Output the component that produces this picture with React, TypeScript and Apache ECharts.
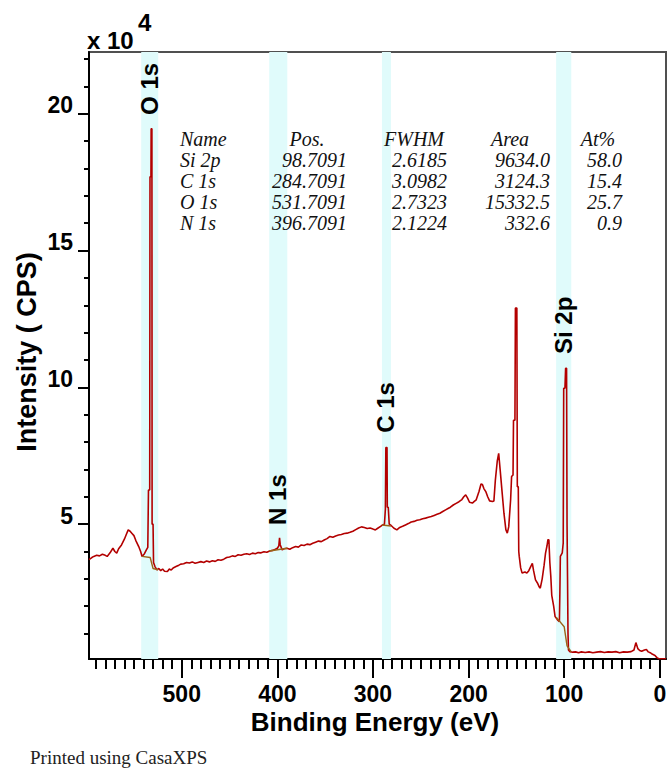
import React, { useEffect, useRef } from "react";
import * as echarts from "echarts";

// ---- spectrum (binding energy in eV, intensity in units of 10^4 CPS)
const spectrumEnergy = [
  597, 594, 592, 589, 586, 583, 580, 578, 575, 572, 570, 568, 566, 563, 560, 558, 556, 554, 552, 550,
  548, 545, 543, 541.5, 539, 537, 535.5, 534.8, 533.5, 533.2, 532.2, 532, 531.2, 531, 530, 529.5,
  528, 526, 524, 522, 520, 518, 515, 513, 511, 509, 506, 503, 501, 498, 495, 492, 489, 486, 483,
  480, 477, 474, 471, 468, 465, 462, 459, 456, 453, 450, 447, 444, 441, 438, 435, 432, 429, 426,
  423, 420, 417, 414, 411, 408, 405, 402, 400, 398.5, 397.7, 397, 395, 393, 390, 387, 384, 381,
  378, 375, 372, 369, 366, 363, 360, 357, 354, 351, 348, 345, 342, 339, 336, 333, 330, 327, 324,
  321, 318, 315, 312, 309, 306, 303, 300, 297.5, 295, 292, 290, 288, 287, 286.5, 285.3, 285, 284,
  283, 281, 278, 275, 272, 269, 266, 263, 260, 257, 254, 251, 248, 245, 242, 239, 236, 233, 230,
  227, 224, 221, 219, 216, 213, 210, 207, 205, 203, 201, 199, 196, 194, 192, 189, 187, 185.5, 184,
  182, 180, 178, 175, 173.5, 172, 170, 168.5, 167, 165, 163, 161, 159.5, 158, 156, 155, 153.5, 153,
  151.5, 151, 149.5, 149, 148, 147.5, 147, 145.5, 144, 141, 139, 137, 135, 133.3, 132, 130, 128,
  126, 125, 123, 121, 119.5, 118, 117, 116, 115, 114, 113, 111, 109.5, 107, 105, 104.5, 104, 102,
  101, 100.5, 99.2, 98.5, 97.5, 97, 96.5, 96, 95.5, 94, 91, 88, 85, 82, 78, 74, 70, 66, 62, 58, 54,
  50, 46, 42, 38, 34, 30, 27, 25, 23, 21, 19, 16, 14, 12, 10, 8, 5, 3, 1, -6.5,
];
const spectrumCounts = [
  3.7, 3.78, 3.82, 3.86, 3.84, 3.9, 3.86, 3.82, 3.95, 4.12, 4.0, 3.94, 4.1, 4.24, 4.45, 4.62, 4.79, 4.74, 4.66, 4.58,
  4.4, 4.18, 4.0, 3.82, 3.92, 4.06, 4.15, 6.25, 6.25, 17.7, 17.7, 19.45, 19.45, 5.0, 5.0, 3.6,
  3.45, 3.33, 3.38, 3.3, 3.36, 3.28, 3.27, 3.36, 3.32, 3.4, 3.45, 3.5, 3.54, 3.55, 3.6, 3.58, 3.62, 3.57, 3.6,
  3.63, 3.6, 3.65, 3.62, 3.66, 3.64, 3.7, 3.68, 3.72, 3.78, 3.8, 3.84, 3.82, 3.88, 3.86, 3.9, 3.92, 3.89, 3.94,
  3.92, 3.96, 3.95, 3.99, 3.97, 4.02, 4.04, 4.08, 4.12, 4.2, 4.5, 4.25, 4.06, 4.1, 4.12, 4.08, 4.14, 4.18,
  4.16, 4.24, 4.22, 4.27, 4.25, 4.3, 4.34, 4.38, 4.36, 4.42, 4.47, 4.55, 4.52, 4.57, 4.6, 4.62, 4.66, 4.67, 4.7,
  4.74, 4.8, 4.86, 4.9, 4.88, 4.84, 4.86, 4.82, 4.79, 4.85, 4.92, 4.97, 5.0, 5.55, 7.8, 7.8, 5.62, 5.62,
  5.0, 4.95, 4.85, 4.79, 4.88, 4.92, 4.97, 5.02, 5.08, 5.1, 5.14, 5.16, 5.2, 5.22, 5.25, 5.28, 5.32, 5.36, 5.4,
  5.46, 5.52, 5.58, 5.62, 5.7, 5.76, 5.82, 5.9, 6.0, 6.07, 5.95, 5.8, 5.77, 5.83, 5.89, 6.2, 6.47, 6.45, 6.3,
  6.19, 6.0, 5.85, 5.83, 5.85, 6.6, 7.3, 7.59, 7.0, 6.2, 5.4, 4.8, 4.67, 4.9, 5.9, 6.74, 6.8, 8.8,
  8.8, 12.9, 12.9, 6.37, 6.37, 4.0, 3.82, 3.4, 3.21, 3.25, 3.21, 3.3, 3.45, 3.57, 3.3, 2.96, 2.85,
  2.7, 2.66, 3.0, 3.5, 3.94, 4.2, 4.43, 4.43, 3.6, 3.1, 2.4, 2.0, 1.62, 1.5, 1.44, 2.5, 3.82, 3.95,
  4.31, 9.97, 9.97, 10.7, 10.7, 5.0, 3.08, 1.0, 0.4, 0.34, 0.32, 0.33, 0.3, 0.33, 0.31, 0.33, 0.3, 0.32, 0.34, 0.31, 0.33,
  0.32, 0.34, 0.3, 0.33, 0.32, 0.34, 0.4, 0.67, 0.45, 0.38, 0.35, 0.4, 0.42, 0.33, 0.3, 0.25, 0.2, 0.12, 0.08, 0.08,
];

// ---- component regions (shaded bands) and their backgrounds
const regionNames = ["O 1s", "N 1s", "C 1s", "Si 2p"];
const regionStart = [542.4, 408.5, 290.6, 108.4];
const regionEnd = [524.6, 389.6, 281.2, 92.6];
const bgEnergy = [
  [541.5, 533, 530, 524.6],
  [408.5, 389.6],
  [290.6, 281.2],
  [108.4, 100, 97, 92.6],
];
const bgCounts = [
  [3.82, 3.78, 3.38, 3.33],
  [4.02, 4.12],
  [4.97, 4.93],
  [1.6, 1.25, 0.55, 0.33],
];

// ---- peak annotation labels (x position in eV, label base height in 10^4 CPS)
const peakLabelNames = ["O 1s", "N 1s", "C 1s", "Si 2p"];
const peakLabelEnergy = [533.5, 399.6, 287.0, 100.4];
const peakLabelBase = [19.96, 4.97, 8.34, 11.22];

// ---- axes
const xMin = -6.5;
const xMax = 597;
const yMin = 0.07;
const yMax = 22.26;
const xMajorTicks = [0, 100, 200, 300, 400, 500];
const xMinorTicks = [
  10, 20, 30, 40, 50, 60, 70, 80, 90, 110, 120, 130, 140, 150, 160, 170, 180, 190,
  210, 220, 230, 240, 250, 260, 270, 280, 290, 310, 320, 330, 340, 350, 360, 370, 380, 390,
  410, 420, 430, 440, 450, 460, 470, 480, 490, 510, 520, 530, 540, 550, 560, 570, 580, 590,
];
const yMajorTicks = [5, 10, 15, 20];
const yMinorTicks = [1, 2, 3, 4, 6, 7, 8, 9, 11, 12, 13, 14, 16, 17, 18, 19, 21, 22];

// ---- quantification table
const tableHeaders = ["Name", "Pos.", "FWHM", "Area", "At%"];
const tableNames = ["Si 2p", "C 1s", "O 1s", "N 1s"];
const tablePos = ["98.7091", "284.7091", "531.7091", "396.7091"];
const tableFWHM = ["2.6185", "3.0982", "2.7323", "2.1224"];
const tableArea = ["9634.0", "3124.3", "15332.5", "332.6"];
const tableAt = ["58.0", "15.4", "25.7", "0.9"];

const SANS = "'Liberation Sans', Arial, Helvetica, sans-serif";
const SERIF = "'Liberation Serif', 'Times New Roman', serif";

function buildOption() {
  const spectrum = spectrumEnergy.map((e, i) => [e, spectrumCounts[i]]);
  const bgData: any[] = [];
  bgEnergy.forEach((arr, r) => {
    arr.forEach((e, i) => bgData.push([e, bgCounts[r][i]]));
    bgData.push(null);
  });

  const tableCols = [tableNames, tablePos, tableFWHM, tableArea, tableAt];
  const colX = [180, 347, 447, 550, 622];
  const colAlign = ["left", "right", "right", "right", "right"];
  const headerX = [180, 307, 414, 510, 598];
  const headerAlign = ["left", "center", "center", "center", "center"];
  const rowY0 = 139;
  const rowStep = 21;
  const tableFont = { fontFamily: SERIF, fontStyle: "italic", fontSize: 20, fill: "#111" };

  const graphics: any[] = [];
  tableHeaders.forEach((h, c) => {
    graphics.push({
      type: "text",
      z: 100,
      style: { ...tableFont, text: h, x: headerX[c], y: rowY0, align: headerAlign[c], verticalAlign: "middle" },
    });
  });
  tableCols.forEach((col, c) => {
    col.forEach((t, r) => {
      graphics.push({
        type: "text",
        z: 100,
        style: {
          ...tableFont,
          text: t,
          x: colX[c],
          y: rowY0 + rowStep * (r + 1),
          align: colAlign[c],
          verticalAlign: "middle",
        },
      });
    });
  });
  graphics.push(
    {
      type: "text",
      z: 100,
      style: { text: "x 10", x: 87, y: 40, align: "left", verticalAlign: "middle", fontFamily: SANS, fontWeight: "bold", fontSize: 24, fill: "#000" },
    },
    {
      type: "text",
      z: 100,
      style: { text: "4", x: 138, y: 22, align: "left", verticalAlign: "middle", fontFamily: SANS, fontWeight: "bold", fontSize: 24, fill: "#000" },
    },
    {
      type: "text",
      z: 100,
      x: 27,
      y: 352,
      rotation: Math.PI / 2,
      style: { text: "Intensity ( CPS)", x: 0, y: 0, align: "center", verticalAlign: "middle", fontFamily: SANS, fontWeight: "bold", fontSize: 27, fill: "#000" },
    },
    {
      type: "text",
      z: 100,
      style: { text: "Binding Energy (eV)", x: 375, y: 722, align: "center", verticalAlign: "middle", fontFamily: SANS, fontWeight: "bold", fontSize: 26, fill: "#000" },
    },
    {
      type: "text",
      z: 100,
      style: { text: "Printed using CasaXPS", x: 30, y: 757, align: "left", verticalAlign: "middle", fontFamily: SERIF, fontSize: 19, fill: "#222" },
    }
  );

  const axisLabelStyle = { fontFamily: SANS, fontWeight: "bold", fontSize: 23, color: "#000" };

  return {
    animation: false,
    backgroundColor: "#ffffff",
    grid: {
      left: 89,
      top: 52,
      width: 577,
      height: 607,
      show: true,
      borderColor: "#505050",
      borderWidth: 2,
      backgroundColor: "transparent",
      containLabel: false,
      outerBoundsMode: "none",
    },
    xAxis: [
      {
        type: "value",
        inverse: true,
        min: xMin,
        max: xMax,
        position: "bottom",
        axisLine: { show: true, onZero: false, lineStyle: { color: "#000", width: 2 } },
        axisTick: { show: true, length: 19, customValues: xMajorTicks, lineStyle: { color: "#000", width: 2 } },
        axisLabel: { show: true, customValues: xMajorTicks, margin: 23, ...axisLabelStyle },
        splitLine: { show: false },
      },
      {
        type: "value",
        inverse: true,
        min: xMin,
        max: xMax,
        position: "bottom",
        axisLine: { show: false, onZero: false },
        axisTick: { show: true, length: 10, customValues: xMinorTicks, lineStyle: { color: "#000", width: 2 } },
        axisLabel: { show: false },
        splitLine: { show: false },
      },
    ],
    yAxis: [
      {
        type: "value",
        min: yMin,
        max: yMax,
        position: "left",
        axisLine: { show: true, onZero: false, lineStyle: { color: "#000", width: 2 } },
        axisTick: { show: true, length: 11, customValues: yMajorTicks, lineStyle: { color: "#000", width: 2 } },
        axisLabel: {
          show: true,
          customValues: yMajorTicks,
          margin: 16,
          verticalAlign: "bottom",
          lineHeight: 17,
          ...axisLabelStyle,
        },
        splitLine: { show: false },
      },
      {
        type: "value",
        min: yMin,
        max: yMax,
        position: "left",
        axisLine: { show: false, onZero: false },
        axisTick: { show: true, length: 5, customValues: yMinorTicks, lineStyle: { color: "#000", width: 2 } },
        axisLabel: { show: false },
        splitLine: { show: false },
      },
    ],
    series: [
      {
        type: "line",
        name: "bands",
        data: [],
        z: 1,
        silent: true,
        markArea: {
          silent: true,
          itemStyle: { color: "#e0fbfb" },
          data: regionNames.map((n, i) => [{ xAxis: regionStart[i] }, { xAxis: regionEnd[i] }]),
        },
      },
      {
        type: "line",
        name: "spectrum",
        data: spectrum,
        xAxisIndex: 0,
        yAxisIndex: 0,
        symbol: "none",
        z: 3,
        lineStyle: { color: "#b30000", width: 1.6 },
        silent: true,
      },
      {
        type: "line",
        name: "background",
        data: bgData,
        connectNulls: false,
        xAxisIndex: 0,
        yAxisIndex: 0,
        symbol: "none",
        z: 4,
        lineStyle: { color: "#9a6418", width: 1.4 },
        silent: true,
      },
      {
        type: "scatter",
        name: "labels",
        data: peakLabelNames.map((n, i) => ({ name: n, value: [peakLabelEnergy[i], peakLabelBase[i]] })),
        symbolSize: 0,
        z: 5,
        silent: true,
        label: {
          show: true,
          formatter: "{b}",
          position: [0, 0],
          rotate: 90,
          align: "left",
          verticalAlign: "middle",
          fontFamily: SANS,
          fontWeight: "bold",
          fontSize: 24,
          color: "#000",
          opacity: 1,
        },
      },
    ],
    graphic: graphics,
  };
}

export default function App() {
  const ref = useRef<HTMLDivElement>(null);
  useEffect(() => {
    if (!ref.current) return;
    const chart = echarts.init(ref.current, null, { renderer: "svg" });
    chart.setOption(buildOption() as any);
    return () => chart.dispose();
  }, []);
  return (
    <div
      ref={ref}
      style={{ position: "absolute", left: 0, top: 0, width: 670, height: 768, background: "#ffffff" }}
    />
  );
}
